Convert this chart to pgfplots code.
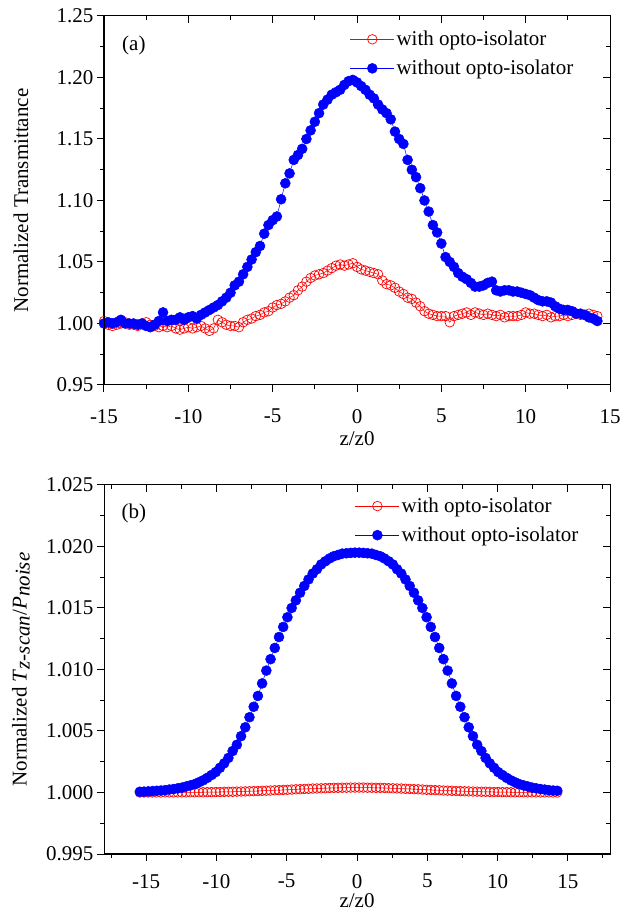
\documentclass[border=0pt]{standalone}
\usepackage{fontspec}
\setmainfont{Liberation Serif}
\usepackage{pgfplots}
\pgfplotsset{compat=1.18}
\usepackage{pgfplotstable}

% panel (a): z/z0, without opto-isolator, with opto-isolator
\pgfplotstableread{
z wo w
-15.00 1.000 1.002
-14.75 1.001 0.999
-14.50 1.000 0.998
-14.25 1.001 0.999
-14.00 1.003 1.000
-13.75 1.000 1.001
-13.50 1.000 0.999
-13.25 1.000 0.999
-13.00 0.999 0.998
-12.75 1.000 1.000
-12.50 0.998 1.001
-12.25 0.997 0.999
-12.00 0.999 0.998
-11.75 1.002 0.997
-11.50 1.009 0.998
-11.25 1.002 0.997
-11.00 1.003 0.998
-10.75 1.003 0.996
-10.50 1.005 0.995
-10.25 1.003 0.996
-10.00 1.005 0.997
-9.75 1.006 0.996
-9.50 1.004 0.997
-9.25 1.007 0.998
-9.00 1.009 0.996
-8.75 1.011 0.994
-8.50 1.013 0.996
-8.25 1.015 1.003
-8.00 1.018 1.001
-7.75 1.021 0.999
-7.50 1.025 0.998
-7.25 1.031 0.998
-7.00 1.034 0.997
-6.75 1.040 1.001
-6.50 1.046 1.003
-6.25 1.052 1.004
-6.00 1.058 1.006
-5.75 1.063 1.007
-5.50 1.073 1.009
-5.25 1.080 1.010
-5.00 1.084 1.013
-4.75 1.087 1.015
-4.50 1.101 1.016
-4.25 1.114 1.018
-4.00 1.122 1.021
-3.75 1.133 1.023
-3.50 1.137 1.027
-3.25 1.142 1.030
-3.00 1.150 1.034
-2.75 1.157 1.037
-2.50 1.164 1.039
-2.25 1.171 1.040
-2.00 1.178 1.041
-1.75 1.182 1.043
-1.50 1.186 1.045
-1.25 1.188 1.047
-1.00 1.190 1.048
-0.75 1.194 1.047
-0.50 1.197 1.048
-0.25 1.198 1.049
0.00 1.196 1.046
0.25 1.193 1.044
0.50 1.190 1.043
0.75 1.186 1.042
1.00 1.183 1.041
1.25 1.178 1.040
1.50 1.174 1.035
1.75 1.171 1.032
2.00 1.166 1.031
2.25 1.156 1.029
2.50 1.150 1.026
2.75 1.146 1.024
3.00 1.133 1.021
3.25 1.125 1.020
3.50 1.119 1.017
3.75 1.110 1.014
4.00 1.100 1.010
4.25 1.091 1.008
4.50 1.080 1.007
4.75 1.074 1.006
5.00 1.065 1.006
5.25 1.054 1.006
5.50 1.050 1.001
5.75 1.046 1.006
6.00 1.041 1.007
6.25 1.038 1.008
6.50 1.036 1.009
6.75 1.033 1.007
7.00 1.030 1.009
7.25 1.030 1.008
7.50 1.031 1.007
7.75 1.033 1.008
8.00 1.034 1.007
8.25 1.027 1.006
8.50 1.026 1.007
8.75 1.027 1.005
9.00 1.027 1.006
9.25 1.026 1.006
9.50 1.026 1.006
9.75 1.025 1.007
10.00 1.024 1.009
10.25 1.023 1.008
10.50 1.021 1.008
10.75 1.019 1.007
11.00 1.018 1.006
11.25 1.018 1.007
11.50 1.017 1.005
11.75 1.014 1.006
12.00 1.012 1.006
12.25 1.011 1.007
12.50 1.011 1.006
12.75 1.010 1.007
13.00 1.008 1.008
13.25 1.008 1.007
13.50 1.007 1.007
13.75 1.005 1.008
14.00 1.004 1.007
14.25 1.002 1.006
}\dataA

% panel (b)
\pgfplotstableread{
z wo w
-15.45 1.00006 1.00000
-15.15 1.00007 1.00000
-14.85 1.00009 1.00000
-14.55 1.00011 1.00000
-14.25 1.00014 1.00000
-13.95 1.00016 1.00000
-13.65 1.00019 1.00001
-13.35 1.00024 1.00001
-13.05 1.00028 1.00001
-12.75 1.00034 1.00001
-12.45 1.00040 1.00001
-12.15 1.00049 1.00001
-11.85 1.00058 1.00002
-11.55 1.00068 1.00002
-11.25 1.00083 1.00002
-10.95 1.00099 1.00002
-10.65 1.00119 1.00003
-10.35 1.00142 1.00003
-10.05 1.00166 1.00004
-9.75 1.00201 1.00004
-9.45 1.00237 1.00005
-9.15 1.00281 1.00006
-8.85 1.00337 1.00006
-8.55 1.00388 1.00007
-8.25 1.00458 1.00008
-7.95 1.00530 1.00009
-7.65 1.00612 1.00010
-7.35 1.00697 1.00011
-7.05 1.00785 1.00012
-6.75 1.00887 1.00014
-6.45 1.00991 1.00015
-6.15 1.01084 1.00016
-5.85 1.01175 1.00018
-5.55 1.01264 1.00019
-5.25 1.01346 1.00021
-4.95 1.01425 1.00022
-4.65 1.01500 1.00024
-4.35 1.01562 1.00026
-4.05 1.01624 1.00027
-3.75 1.01679 1.00029
-3.45 1.01732 1.00030
-3.15 1.01780 1.00032
-2.85 1.01815 1.00033
-2.55 1.01854 1.00034
-2.25 1.01880 1.00035
-1.95 1.01903 1.00037
-1.65 1.01921 1.00038
-1.35 1.01931 1.00038
-1.05 1.01942 1.00039
-0.75 1.01945 1.00039
-0.45 1.01948 1.00040
-0.15 1.01950 1.00040
0.15 1.01950 1.00040
0.45 1.01948 1.00040
0.75 1.01945 1.00039
1.05 1.01942 1.00039
1.35 1.01931 1.00038
1.65 1.01921 1.00038
1.95 1.01903 1.00037
2.25 1.01880 1.00035
2.55 1.01854 1.00034
2.85 1.01815 1.00033
3.15 1.01780 1.00032
3.45 1.01732 1.00030
3.75 1.01679 1.00029
4.05 1.01624 1.00027
4.35 1.01562 1.00026
4.65 1.01500 1.00024
4.95 1.01425 1.00022
5.25 1.01346 1.00021
5.55 1.01264 1.00019
5.85 1.01175 1.00018
6.15 1.01084 1.00016
6.45 1.00991 1.00015
6.75 1.00887 1.00014
7.05 1.00785 1.00012
7.35 1.00697 1.00011
7.65 1.00612 1.00010
7.95 1.00530 1.00009
8.25 1.00458 1.00008
8.55 1.00388 1.00007
8.85 1.00337 1.00006
9.15 1.00281 1.00006
9.45 1.00237 1.00005
9.75 1.00201 1.00004
10.05 1.00166 1.00004
10.35 1.00142 1.00003
10.65 1.00119 1.00003
10.95 1.00099 1.00002
11.25 1.00083 1.00002
11.55 1.00068 1.00002
11.85 1.00058 1.00002
12.15 1.00049 1.00001
12.45 1.00040 1.00001
12.75 1.00034 1.00001
13.05 1.00028 1.00001
13.35 1.00024 1.00001
13.65 1.00019 1.00001
13.95 1.00016 1.00000
14.25 1.00014 1.00000
}\dataB

\newcommand\bigf{\fontsize{21}{25}\selectfont}

\pgfplotsset{
  zscan/.style={
    scale only axis, width=506pt, height=369pt,
    /pgf/number format/assume math mode=true,
    tick label style={font=\bigf},
    axis line style={line width=1pt},
    every tick/.style={line width=1pt, black},
    major tick length=7pt, minor tick length=4pt,
    every axis y label/.style={at={(axis description cs:-0.164,0.5)}, rotate=90,
      anchor=center, font=\bigf},
    legend cell align=left,
    legend style={draw=none, fill=none, font=\bigf,
      at={(axis description cs:0.48,0.970)}, anchor=north west, row sep=9pt},
    legend image code/.code={\draw[mark repeat=2,mark phase=2,##1]
      plot coordinates {(0pt,0pt) (22pt,0pt) (44pt,0pt)};},
  },
  mirror/.style={zscan, xtick pos=right, ytick pos=right, tick align=inside,
    xticklabels={}, yticklabels={}},
  main/.style={zscan, xtick pos=left, ytick pos=left, tick align=outside},
  wopt/.style={blue, line width=0.5pt, mark=*, mark size=5pt,
    mark options={fill=blue, draw=blue, line width=0.5pt}},
  wpt/.style={red, line width=0.5pt, mark=o, mark size=4.8pt,
    mark options={draw=red, line width=0.7pt}},
}

\begin{document}
\begin{tikzpicture}
\useasboundingbox (0,0) rectangle (633pt,912pt);

% ---- panel (a)
\begin{axis}[main, at={(104pt,527pt)}, anchor=south west,
  xmin=-15, xmax=15, ymin=0.95, ymax=1.25,
  xtick={-15,-10,...,15}, minor xtick={-12.5,-7.5,...,12.5},
  ytick={0.95,1.00,...,1.26}, minor ytick={0.975,1.025,...,1.23},
  yticklabel style={/pgf/number format/.cd, fixed, fixed zerofill, precision=2},
  xticklabel style={inner sep=1pt, yshift=-16pt},
  xlabel={z/z0}, ylabel={Normalized Transmittance},
  every axis x label/.style={at={(axis description cs:0.5,-0.145)}, anchor=center,
    inner sep=1pt, font=\bigf}]
\addplot[wpt] table[x=z, y=w] {\dataA};
\addlegendentry{with opto-isolator}
\addplot[wopt] table[x=z, y=wo] {\dataA};
\addlegendentry{without opto-isolator}
\node[font=\bigf] at (axis description cs:0.059,0.921) {(a)};
\end{axis}
\begin{axis}[mirror, at={(104pt,527pt)}, anchor=south west,
  xmin=-15, xmax=15, ymin=0.95, ymax=1.25,
  xtick={-15,-10,...,15}, minor xtick={-12.5,-7.5,...,12.5},
  ytick={0.95,1.00,...,1.26}, minor ytick={0.975,1.025,...,1.23}]
\end{axis}

% ---- panel (b)
\begin{axis}[main, at={(104pt,58pt)}, anchor=south west,
  xmin=-18, xmax=18, ymin=0.995, ymax=1.025,
  xtick={-15,-10,...,15}, minor xtick={-17.5,-12.5,...,17.5},
  ytick={0.995,1.000,...,1.026}, minor ytick={0.9975,1.0025,...,1.023},
  yticklabel style={/pgf/number format/.cd, fixed, fixed zerofill, precision=3},
  xticklabel style={inner sep=1pt, yshift=-12pt},
  xlabel={z/z0},
  ylabel={Normalized \textit{T}\raisebox{-3pt}{\textit{z-scan}}/\textit{P}\raisebox{-3pt}{\textit{noise}}},
  every axis x label/.style={at={(axis description cs:0.5,-0.126)}, anchor=center,
    inner sep=1pt, font=\bigf},
  legend style={at={(axis description cs:0.49,0.976)}}]
\addplot[wpt] table[x=z, y=w] {\dataB};
\addlegendentry{with opto-isolator}
\addplot[wopt] table[x=z, y=wo] {\dataB};
\addlegendentry{without opto-isolator}
\node[font=\bigf] at (axis description cs:0.059,0.924) {(b)};
\end{axis}
\begin{axis}[mirror, at={(104pt,58pt)}, anchor=south west,
  xmin=-18, xmax=18, ymin=0.995, ymax=1.025,
  xtick={-15,-10,...,15}, minor xtick={-17.5,-12.5,...,17.5},
  ytick={0.995,1.000,...,1.026}, minor ytick={0.9975,1.0025,...,1.023}]
\end{axis}
\end{tikzpicture}
\end{document}
